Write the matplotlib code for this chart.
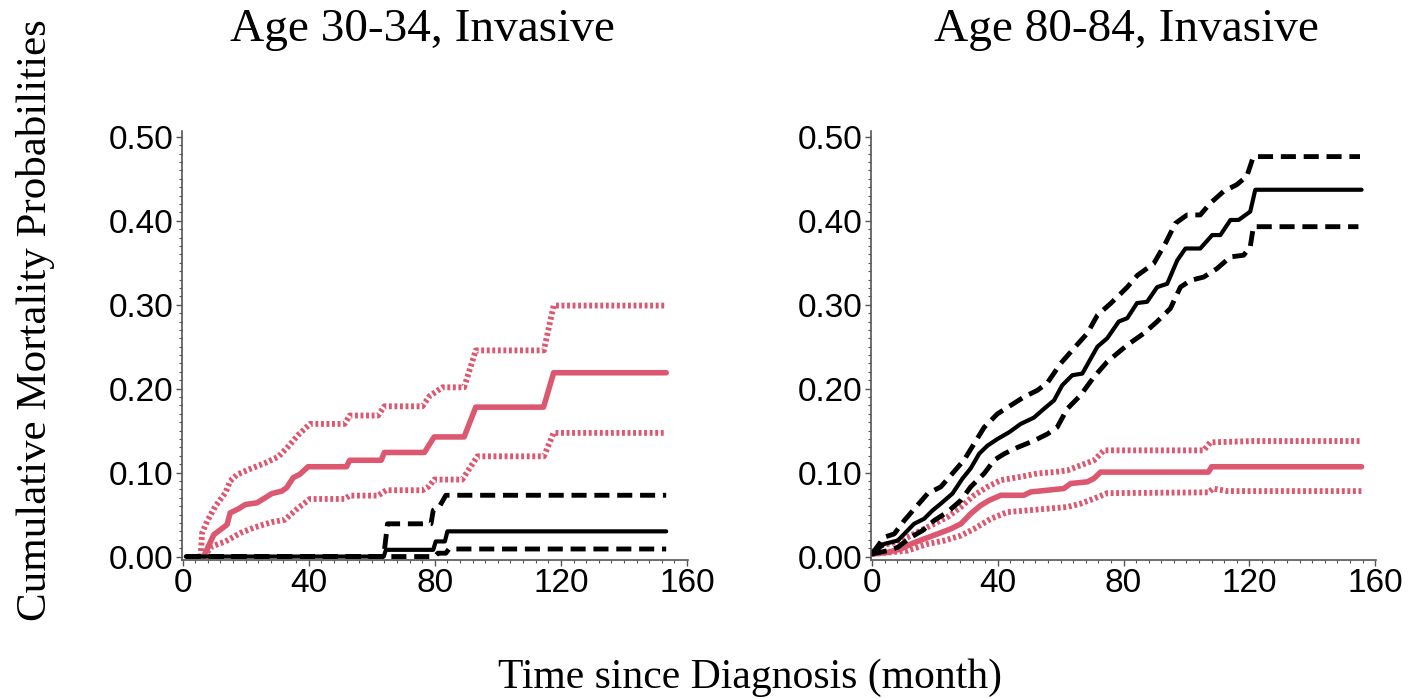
import matplotlib
matplotlib.use('Agg')
import matplotlib.pyplot as plt
from matplotlib.ticker import MultipleLocator, FormatStrFormatter

# ---- Age 30-34 (left panel) ----
l_red_t = [6.7, 9.9, 14.1, 15.1, 17.8, 19.9, 23.6, 26.2, 28.3, 31.5, 33.0, 35.1, 37.2, 39.8, 52.0, 53.0,
           63.0, 64.0, 76.7, 78.2, 79.8, 89.3, 93.0, 114.5, 117.7, 153.4]
l_red = [0.0, 0.026, 0.038, 0.052, 0.057, 0.062, 0.064, 0.070, 0.075, 0.078, 0.082, 0.094, 0.098, 0.107, 0.107,
         0.1147, 0.1147, 0.124, 0.124, 0.133, 0.1425, 0.1425, 0.178, 0.178, 0.219, 0.219]
l_red_hi_t = [5.7, 6.2, 7.8, 10.4, 13.6, 15.1, 17.3, 20.9, 26.2, 30.4, 33.5, 36.7, 40.4, 51.4, 53.0, 62.0,
              64.0, 76.1, 78.3, 82.4, 89.3, 93.0, 114.6, 117.7, 153.4]
l_red_hi = [0.0, 0.028, 0.042, 0.060, 0.076, 0.090, 0.0976, 0.1036, 0.1115, 0.119, 0.131, 0.145, 0.158, 0.158,
            0.168, 0.168, 0.179, 0.179, 0.191, 0.2016, 0.2016, 0.2456, 0.2456, 0.299, 0.299]
l_red_lo_t = [6.7, 9.4, 13.6, 18.3, 23.0, 28.3, 32.5, 36.7, 40.4, 51.4, 53.0, 62.0, 64.6, 76.1, 78.2, 79.8,
              88.7, 93.5, 114.6, 117.7, 153.4]
l_red_lo = [0.0, 0.0123, 0.018, 0.028, 0.035, 0.041, 0.044, 0.058, 0.0686, 0.0686, 0.0726, 0.0726, 0.079,
            0.079, 0.0837, 0.0917, 0.0917, 0.1194, 0.1194, 0.1473, 0.1473]
l_blk_t = [1.0, 63.8, 64.5, 79.5, 80.3, 83.2, 84.0, 153.4]
l_blk = [0.0, 0.0, 0.008, 0.008, 0.018, 0.018, 0.030, 0.030]
l_blk_hi_t = [1.0, 63.8, 65.0, 78.8, 79.5, 81.4, 83.5, 153.4]
l_blk_hi = [0.0, 0.0, 0.039, 0.039, 0.055, 0.059, 0.073, 0.073]
l_blk_lo_t = [1.0, 80.0, 81.0, 83.5, 84.5, 153.4]
l_blk_lo = [0.0, 0.0, 0.004, 0.004, 0.009, 0.009]

# ---- Age 80-84 (right panel) ----
r_blk_t = [0, 3.9, 8.2, 10.3, 13.4, 16.6, 19.3, 21.9, 25.6, 28.8, 31.4, 34.1, 36.7, 39.9, 43.6, 47.3, 51.5,
           54.7, 57.9, 60.5, 63.7, 66.9, 71.7, 74.8, 78.5, 81.2, 84.3, 87.5, 90.7, 93.9, 97.1, 99.7, 104.4,
           108.2, 110.8, 114.0, 116.6, 120.3, 121.9, 155.7]
r_blk = [0.003, 0.015, 0.019, 0.027, 0.039, 0.045, 0.055, 0.063, 0.075, 0.093, 0.105, 0.1225, 0.132, 0.140,
         0.148, 0.158, 0.1655, 0.176, 0.186, 0.204, 0.216, 0.218, 0.250, 0.260, 0.280, 0.284, 0.302, 0.3035,
         0.321, 0.325, 0.353, 0.367, 0.367, 0.383, 0.383, 0.401, 0.401, 0.411, 0.437, 0.437]
r_blk_hi_t = [0, 3.9, 7.1, 10.3, 14.0, 17.7, 21.9, 25.6, 29.3, 32.5, 35.7, 39.9, 44.1, 48.3, 52.6, 55.8,
              60.0, 64.2, 68.5, 71.7, 75.9, 81.2, 84.4, 89.6, 93.3, 96.5, 100.2, 104.4, 107.6, 111.8, 116.0,
              119.2, 121.3, 155.2]
r_blk_hi = [0.003, 0.023, 0.027, 0.043, 0.059, 0.075, 0.083, 0.099, 0.115, 0.1345, 0.154, 0.170, 0.180,
            0.190, 0.198, 0.207, 0.230, 0.248, 0.266, 0.2876, 0.3015, 0.321, 0.335, 0.349, 0.373, 0.397,
            0.407, 0.407, 0.421, 0.435, 0.443, 0.453, 0.4765, 0.4765]
r_blk_lo_t = [0, 5.0, 8.2, 12.4, 16.1, 19.8, 24.0, 28.3, 31.4, 35.7, 38.9, 42.1, 46.3, 51.5, 55.8, 58.9,
              62.1, 66.3, 70.6, 74.8, 78.0, 81.2, 86.5, 90.7, 94.9, 98.1, 101.3, 105.5, 109.7, 114.0, 118.2,
              120.3, 121.3, 154.7]
r_blk_lo = [0.003, 0.007, 0.011, 0.023, 0.031, 0.043, 0.053, 0.067, 0.083, 0.099, 0.115, 0.1225, 0.130,
            0.138, 0.146, 0.154, 0.176, 0.192, 0.214, 0.232, 0.242, 0.252, 0.266, 0.280, 0.2956, 0.321,
            0.329, 0.333, 0.343, 0.357, 0.359, 0.369, 0.393, 0.393]
r_red_t = [0, 5.0, 9.2, 12.4, 16.6, 20.9, 25.1, 28.3, 31.4, 34.6, 37.3, 41.0, 48.3, 50.5, 55.8, 61.0, 63.2,
           68.5, 70.6, 72.7, 107.0, 108.0, 155.7]
r_red = [0.003, 0.005, 0.009, 0.015, 0.021, 0.027, 0.033, 0.039, 0.051, 0.061, 0.067, 0.073, 0.073, 0.077,
         0.079, 0.081, 0.087, 0.089, 0.093, 0.1006, 0.1006, 0.107, 0.107]
r_red_hi_t = [0, 2.9, 7.1, 11.3, 15.6, 19.8, 24.0, 28.3, 32.5, 36.7, 41.0, 47.3, 52.6, 57.9, 62.1, 66.3,
              70.6, 73.8, 105.5, 107.6, 121.3, 155.7]
r_red_hi = [0.005, 0.013, 0.017, 0.023, 0.031, 0.039, 0.047, 0.059, 0.073, 0.083, 0.091, 0.095, 0.099,
            0.1006, 0.1026, 0.1086, 0.1146, 0.1265, 0.1265, 0.136, 0.1376, 0.1376]
r_red_lo_t = [0, 6.0, 11.3, 17.7, 23.0, 28.3, 32.5, 37.8, 43.1, 49.4, 55.8, 62.1, 66.3, 70.6, 74.8, 107.0,
              108.5, 113.0, 155.7]
r_red_lo = [0.003, 0.005, 0.007, 0.015, 0.019, 0.025, 0.033, 0.045, 0.053, 0.055, 0.057, 0.059, 0.063,
            0.069, 0.0755, 0.0765, 0.081, 0.078, 0.078]

titles = ['Age 30-34, Invasive', 'Age 80-84, Invasive']
RED = '#DC5870'

fig = plt.figure(figsize=(14.08, 6.99), dpi=100)
ax1 = fig.add_axes([0.129, 0.199, 0.3596, 0.6136])
ax2 = fig.add_axes([0.6186, 0.199, 0.3587, 0.6136])

panels = [
    (ax1, (l_red_t, l_red), (l_red_hi_t, l_red_hi), (l_red_lo_t, l_red_lo),
     (l_blk_t, l_blk), (l_blk_hi_t, l_blk_hi), (l_blk_lo_t, l_blk_lo)),
    (ax2, (r_red_t, r_red), (r_red_hi_t, r_red_hi), (r_red_lo_t, r_red_lo),
     (r_blk_t, r_blk), (r_blk_hi_t, r_blk_hi), (r_blk_lo_t, r_blk_lo)),
]

for ax, red, red_hi, red_lo, blk, blk_hi, blk_lo in panels:
    dot = (0, (0.5, 0.45))
    ax.plot(*red_hi, color=RED, lw=4.2, ls=dot, dash_capstyle='butt')
    ax.plot(*red_lo, color=RED, lw=4.2, ls=dot, dash_capstyle='butt')
    ax.plot(*red, color=RED, lw=4.0, solid_capstyle='round')
    ax.plot(*blk_hi, color='black', lw=3.5, ls=(0, (3.1, 1.6)))
    ax.plot(*blk_lo, color='black', lw=3.5, ls=(0, (3.1, 1.6)))
    ax.plot(*blk, color='black', lw=3.0, solid_capstyle='round')

    ax.set_xlim(-0.3, 160.3)
    ax.set_ylim(-0.004, 0.507)
    ax.xaxis.set_major_locator(MultipleLocator(40))
    ax.xaxis.set_minor_locator(MultipleLocator(4))
    ax.yaxis.set_major_locator(MultipleLocator(0.1))
    ax.yaxis.set_minor_locator(MultipleLocator(0.01))
    ax.yaxis.set_major_formatter(FormatStrFormatter('%.2f'))
    for s in ['top', 'right']:
        ax.spines[s].set_visible(False)
    for s in ['left', 'bottom']:
        ax.spines[s].set_color('#555555')
        ax.spines[s].set_linewidth(1.2)
    ax.tick_params(which='major', direction='out', length=4, width=1, color='#555555',
                   labelsize=24, pad=2)
    ax.tick_params(which='minor', direction='out', length=2.5, width=0.8, color='#555555')
    for lab in ax.get_xticklabels() + ax.get_yticklabels():
        lab.set_family('Liberation Sans')

fig.text(0.300, 0.957, titles[0], ha='center', va='center', family='Liberation Serif', fontsize=34)
fig.text(0.800, 0.957, titles[1], ha='center', va='center', family='Liberation Serif', fontsize=34)
fig.text(0.025, 0.542, 'Cumulative Mortality Probabilities', rotation=90, ha='center', va='center',
         family='Liberation Serif', fontsize=31)
fig.text(0.533, 0.030, 'Time since Diagnosis (month)', ha='center', va='center',
         family='Liberation Serif', fontsize=30)

fig.savefig('out.png', dpi=100)
